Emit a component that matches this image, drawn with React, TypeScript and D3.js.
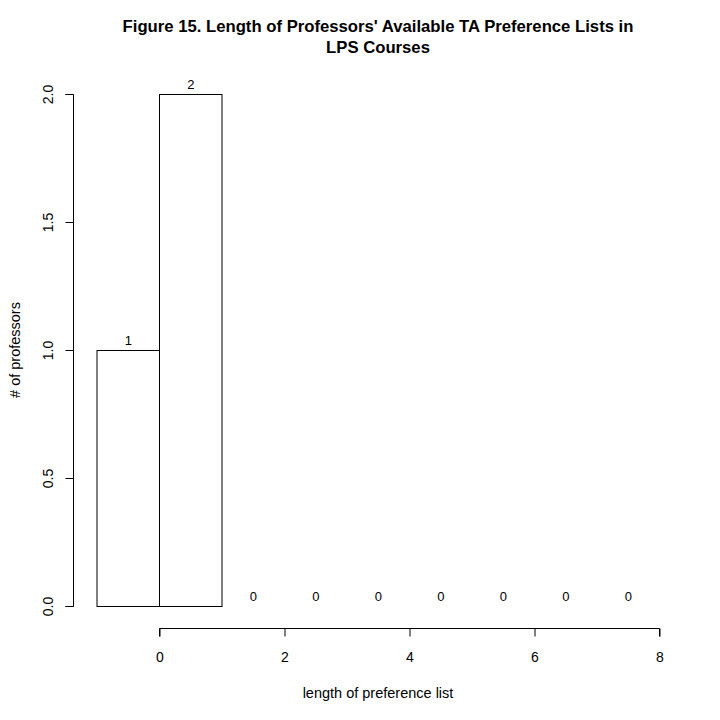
import * as d3 from "d3";
import { useRef, useEffect } from "react";

// histogram bins (left edges) and counts
const binStarts: number[] = [-1, 0, 1, 2, 3, 4, 5, 6, 7];
const binWidth = 1;
const counts: number[] = [1, 2, 0, 0, 0, 0, 0, 0, 0];
const xTicks: number[] = [0, 2, 4, 6, 8];
const yTicks: number[] = [0, 0.5, 1, 1.5, 2];
const title: string[] = [
  "Figure 15. Length of Professors' Available TA Preference Lists in",
  "LPS Courses",
];
const xLabel = "length of preference list";
const yLabel = "# of professors";

export default function App() {
  const svgRef: any = useRef();

  useEffect(() => {
    document.body.style.margin = "0";
    const w = 720;
    const h = 720;
    const font = "'Liberation Sans', Arial, Helvetica, sans-serif";
    const svg = d3.select(svgRef.current).attr("width", w).attr("height", h);
    svg.selectAll("*").remove();
    svg.append("rect").attr("width", w).attr("height", h).attr("fill", "white");

    const xScale = d3.scaleLinear().domain([0, 8]).range([159.5, 659.5]);
    const yScale = d3.scaleLinear().domain([0, 2]).range([606.5, 94.5]);

    // bars
    svg
      .selectAll(".bar")
      .data(binStarts)
      .join("rect")
      .attr("class", "bar")
      .attr("x", (d) => xScale(d))
      .attr("y", (d, i) => yScale(counts[i]))
      .attr("width", (d) => xScale(d + binWidth) - xScale(d))
      .attr("height", (d, i) => yScale(0) - yScale(counts[i]))
      .attr("fill", "none")
      .attr("stroke", "black")
      .attr("stroke-width", 1);

    // count labels
    svg
      .selectAll(".lbl")
      .data(binStarts)
      .join("text")
      .attr("class", "lbl")
      .attr("x", (d) => xScale(d + binWidth / 2))
      .attr("y", (d, i) => yScale(counts[i]) - 5.5)
      .attr("text-anchor", "middle")
      .attr("font-family", font)
      .attr("font-size", 13)
      .attr("fill", "black")
      .text((d, i) => String(counts[i]));

    // x axis
    const xAxis = d3
      .axisBottom(xScale)
      .tickValues(xTicks)
      .tickSize(8)
      .tickFormat((d: any) => String(d));
    const gx = svg.append("g").attr("transform", "translate(0, 628.5)").call(xAxis);
    gx.select(".domain").attr("d", `M${xScale(0)},8V0H${xScale(8)}V8`).attr("stroke", "black");
    gx.selectAll(".tick line").attr("stroke", "black");
    gx.selectAll("text")
      .attr("font-family", font)
      .attr("font-size", 14)
      .attr("fill", "black")
      .attr("dy", null)
      .attr("y", 33.5);

    // y axis
    const yAxis = d3
      .axisLeft(yScale)
      .tickValues(yTicks)
      .tickSize(8)
      .tickFormat((d: any) => d3.format(".1f")(d));
    const gy = svg.append("g").attr("transform", "translate(73.5, 0)").call(yAxis);
    gy.select(".domain").attr("d", `M-8,${yScale(0)}H0V${yScale(2)}H-8`).attr("stroke", "black");
    gy.selectAll(".tick").attr("transform", null);
    gy.selectAll(".tick line")
      .attr("stroke", "black")
      .attr("transform", (d: any) => `translate(0, ${yScale(d)})`);
    gy.selectAll("text")
      .attr("font-family", font)
      .attr("font-size", 14)
      .attr("fill", "black")
      .attr("x", null)
      .attr("dy", null)
      .attr("y", 0)
      .attr("text-anchor", "middle")
      .attr("transform", (d: any) => `translate(-20.5, ${yScale(d)}) rotate(-90)`);

    // title
    svg
      .selectAll(".title")
      .data(title)
      .join("text")
      .attr("class", "title")
      .attr("x", 378)
      .attr("y", (d, i) => 32 + i * 21)
      .attr("text-anchor", "middle")
      .attr("font-family", font)
      .attr("font-weight", "bold")
      .attr("font-size", 16.7)
      .text((d) => d);

    // axis labels
    svg
      .append("text")
      .attr("x", 378)
      .attr("y", 698)
      .attr("text-anchor", "middle")
      .attr("font-family", font)
      .attr("font-size", 14.5)
      .text(xLabel);
    svg
      .append("text")
      .attr("transform", "translate(20, 350) rotate(-90)")
      .attr("text-anchor", "middle")
      .attr("font-family", font)
      .attr("font-size", 14.5)
      .text(yLabel);
  }, []);

  return <svg ref={svgRef} style={{ display: "block" }}></svg>;
}
